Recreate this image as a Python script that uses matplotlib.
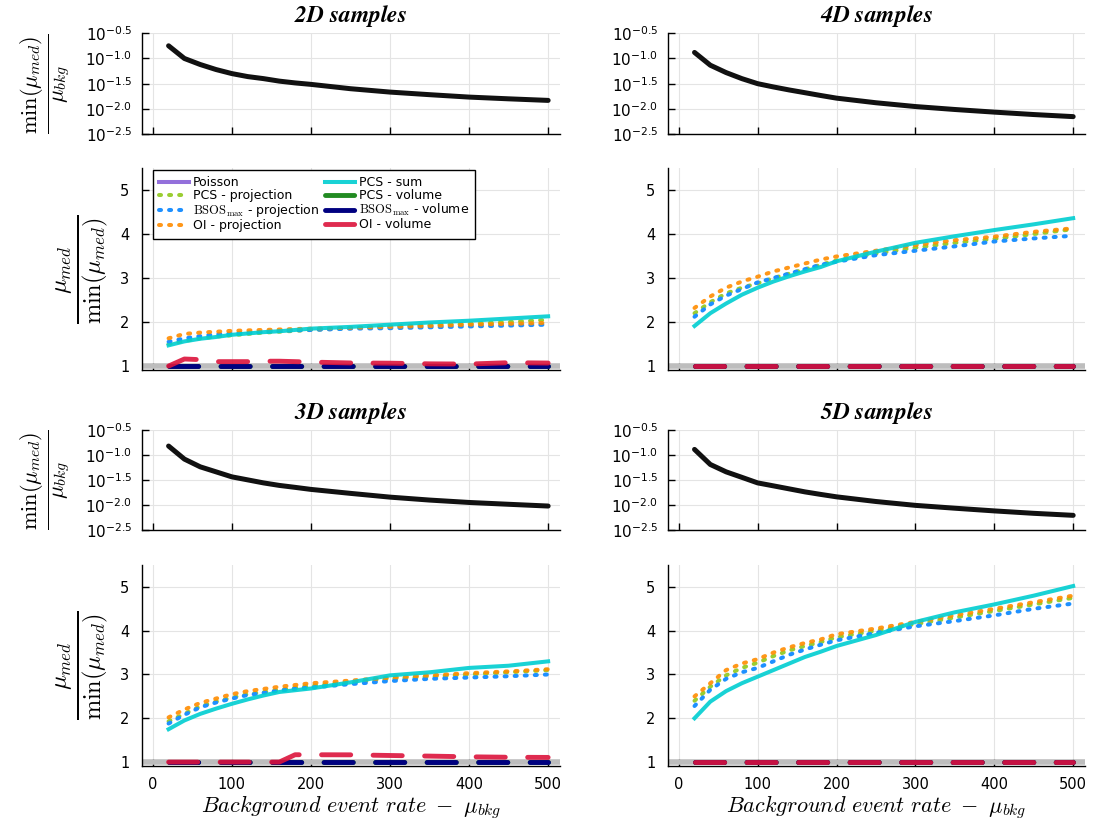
import matplotlib
matplotlib.use("Agg")
import matplotlib.pyplot as plt

plt.rcParams['mathtext.fontset'] = 'cm'
plt.rcParams['font.family'] = ['DejaVu Sans']

mu_bkg = [20, 40, 60, 80, 100, 120, 140, 160, 180, 200, 250, 300, 350, 400, 450, 500]
dims = ['2D', '4D', '3D', '5D']

# upper panels: min(mu_med) / mu_bkg
min_ratio = {
    '2D': [0.1786, 0.1000, 0.0759, 0.0603, 0.0501, 0.0437, 0.0398, 0.0355, 0.0327, 0.0306, 0.0251, 0.0215, 0.0191, 0.0171, 0.0158, 0.0147],
    '4D': [0.1318, 0.0735, 0.0525, 0.0398, 0.0316, 0.0272, 0.0237, 0.0209, 0.0184, 0.0163, 0.0132, 0.0111, 0.0097, 0.0086, 0.0077, 0.0070],
    '3D': [0.1493, 0.0820, 0.0575, 0.0457, 0.0363, 0.0316, 0.0275, 0.0245, 0.0224, 0.0204, 0.0170, 0.0143, 0.0125, 0.0112, 0.0103, 0.0095],
    '5D': [0.1279, 0.0641, 0.0457, 0.0355, 0.0275, 0.0240, 0.0209, 0.0182, 0.0162, 0.0145, 0.0117, 0.0098, 0.0086, 0.0076, 0.0068, 0.0062],
}

# lower panels: mu_med / min(mu_med)
poisson = [1.0] * 16
pcs_sum = {
    '2D': [1.47, 1.56, 1.62, 1.66, 1.71, 1.74, 1.77, 1.79, 1.82, 1.85, 1.89, 1.94, 1.99, 2.03, 2.08, 2.13],
    '4D': [1.91, 2.20, 2.42, 2.62, 2.78, 2.92, 3.04, 3.15, 3.25, 3.38, 3.60, 3.80, 3.95, 4.09, 4.22, 4.36],
    '3D': [1.75, 1.95, 2.10, 2.22, 2.33, 2.43, 2.52, 2.60, 2.64, 2.68, 2.82, 2.98, 3.05, 3.15, 3.20, 3.30],
    '5D': [2.00, 2.38, 2.62, 2.80, 2.95, 3.10, 3.25, 3.40, 3.52, 3.65, 3.90, 4.20, 4.42, 4.60, 4.80, 5.02],
}
pcs_proj = {
    '2D': [1.50, 1.57, 1.63, 1.67, 1.70, 1.73, 1.76, 1.78, 1.80, 1.82, 1.86, 1.90, 1.93, 1.96, 2.00, 2.05],
    '4D': [2.20, 2.45, 2.65, 2.78, 2.88, 3.00, 3.10, 3.20, 3.30, 3.40, 3.56, 3.69, 3.80, 3.89, 4.00, 4.11],
    '3D': [1.93, 2.10, 2.27, 2.38, 2.47, 2.55, 2.60, 2.65, 2.70, 2.74, 2.82, 2.90, 2.95, 3.00, 3.05, 3.10],
    '5D': [2.40, 2.72, 2.98, 3.15, 3.27, 3.42, 3.55, 3.65, 3.74, 3.85, 4.00, 4.15, 4.30, 4.45, 4.60, 4.75],
}
bsos_proj = {
    '2D': [1.55, 1.63, 1.68, 1.72, 1.74, 1.76, 1.78, 1.80, 1.81, 1.82, 1.85, 1.86, 1.88, 1.90, 1.92, 1.94],
    '4D': [2.12, 2.40, 2.60, 2.75, 2.90, 3.00, 3.10, 3.20, 3.30, 3.37, 3.52, 3.62, 3.72, 3.83, 3.90, 3.96],
    '3D': [1.88, 2.08, 2.25, 2.36, 2.45, 2.53, 2.58, 2.63, 2.67, 2.70, 2.78, 2.85, 2.90, 2.93, 2.96, 3.00],
    '5D': [2.28, 2.65, 2.90, 3.05, 3.15, 3.30, 3.45, 3.57, 3.68, 3.78, 3.95, 4.10, 4.22, 4.35, 4.50, 4.62],
}
oi_proj = {
    '2D': [1.63, 1.73, 1.76, 1.78, 1.80, 1.81, 1.82, 1.83, 1.84, 1.85, 1.87, 1.89, 1.91, 1.94, 1.96, 1.98],
    '4D': [2.32, 2.58, 2.78, 2.92, 3.03, 3.15, 3.24, 3.33, 3.42, 3.49, 3.62, 3.75, 3.86, 3.94, 4.05, 4.13],
    '3D': [2.02, 2.20, 2.35, 2.45, 2.55, 2.62, 2.67, 2.72, 2.76, 2.80, 2.86, 2.93, 2.98, 3.03, 3.07, 3.12],
    '5D': [2.50, 2.80, 3.10, 3.25, 3.35, 3.50, 3.62, 3.72, 3.80, 3.92, 4.05, 4.20, 4.35, 4.50, 4.65, 4.80],
}
pcs_vol = {
    '2D': [0.995] * 16,
    '4D': [1.0] * 16,
    '3D': [0.995] * 16,
    '5D': [1.0] * 16,
}
bsos_vol = {
    '2D': [1.0] * 16,
    '4D': [1.0] * 16,
    '3D': [1.0] * 16,
    '5D': [1.0] * 16,
}
oi_vol = {
    '2D': [1.0, 1.16, 1.145, 1.10, 1.10, 1.10, 1.11, 1.11, 1.10, 1.09, 1.07, 1.065, 1.05, 1.045, 1.076, 1.068],
    '4D': [1.0] * 16,
    '3D': [1.0, 1.0, 1.0, 1.0, 1.0, 1.0, 1.0, 1.0, 1.167, 1.167, 1.165, 1.15, 1.136, 1.12, 1.11, 1.106],
    '5D': [1.0] * 16,
}

log_ticks = [-2.5, -2.0, -1.5, -1.0, -0.5]
xticks = [0, 100, 200, 300, 400, 500]

W, H = 1094, 826
cols = {0: (141.7, 560.0), 1: (667.7, 1085.0)}
rows = {0: ((33.3, 134.0), (168.0, 370.0)), 1: ((429.7, 530.0), (565.0, 766.0))}
layout = {'2D': (0, 0), '4D': (1, 0), '3D': (0, 1), '5D': (1, 1)}

dot = (0, (0.5, 2.0))
dash = (0, (6.0, 4.6))


def box(c, yr):
    x0, x1 = cols[c]
    y0, y1 = yr
    return [x0 / W, 1 - y1 / H, (x1 - x0) / W, (y1 - y0) / H]


def style(ax):
    for s in ['top', 'right']:
        ax.spines[s].set_visible(False)
    for s in ['left', 'bottom']:
        ax.spines[s].set_linewidth(1.0)
    ax.tick_params(direction='in', labelsize=10.5, length=5, width=1)
    ax.tick_params(axis='y', pad=9)
    ax.tick_params(axis='x', pad=8)
    ax.grid(True, color='#e4e4e4', lw=0.8)
    ax.set_axisbelow(True)
    ax.set_xlim(-14, 515)
    ax.set_xticks(xticks)


fig = plt.figure(figsize=(W / 100, H / 100), dpi=100)

for d in dims:
    c, r = layout[d]
    (ty0, ty1), (by0, by1) = rows[r]
    axt = fig.add_axes(box(c, (ty0, ty1)))
    axb = fig.add_axes(box(c, (by0, by1)))
    style(axt)
    style(axb)

    # upper panel
    axt.plot(mu_bkg, min_ratio[d], color='#111111', lw=3.6, solid_capstyle='round')
    axt.set_yscale('log')
    axt.set_ylim(10 ** -2.5, 10 ** -0.5)
    axt.set_yticks([10 ** v for v in log_ticks])
    axt.set_yticklabels([r'$10^{%.1f}$' % v for v in log_ticks])
    axt.minorticks_off()
    axt.tick_params(axis='y', pad=7)
    for lab in axt.get_yticklabels():
        lab.set_math_fontfamily('dejavusans')
        lab.set_fontsize(11)
    axt.set_xticklabels([])
    axt.set_title(r'$\mathbfit{' + d + r'\ samples}$', fontsize=17, pad=8,
                  math_fontfamily='stix')

    # lower panel
    axb.plot(mu_bkg, poisson, color='mediumpurple', lw=2.9, label='Poisson')
    axb.axhline(1, color='#bdbdbd', lw=4.0, zorder=2.5)
    axb.plot(mu_bkg, pcs_proj[d], color='yellowgreen', lw=2.9, ls=dot,
             dash_capstyle='round', label='PCS - projection', zorder=3)
    axb.plot(mu_bkg, bsos_proj[d], color='dodgerblue', lw=2.9, ls=dot,
             dash_capstyle='round', label=r'$\mathrm{BSOS_{max}}$ - projection', zorder=3)
    axb.plot(mu_bkg, oi_proj[d], color='darkorange', lw=2.9, ls=dot,
             dash_capstyle='round', label='OI - projection', zorder=3, alpha=0.9)
    axb.plot(mu_bkg, pcs_sum[d], color='darkturquoise', lw=2.9, alpha=0.9,
             label='PCS - sum', zorder=3)
    axb.plot(mu_bkg, pcs_vol[d], color='forestgreen', lw=3.5, ls=dash,
             dash_capstyle='round', label='PCS - volume', zorder=3)
    axb.plot(mu_bkg, bsos_vol[d], color='navy', lw=3.5, ls=dash,
             dash_capstyle='round', label=r'$\mathrm{BSOS_{max}}$ - volume', zorder=3)
    axb.plot(mu_bkg, oi_vol[d], color='crimson', lw=3.5, ls=dash,
             dash_capstyle='round', label='OI - volume', zorder=3, alpha=0.9)
    axb.set_ylim(0.91, 5.5)
    axb.set_yticks([1, 2, 3, 4, 5])
    if r == 0:
        axb.set_xticklabels([])
    else:
        axb.set_xlabel(r'$Background\ event\ rate\ -\ \mu_{bkg}$', fontsize=16, labelpad=1)

    if c == 0:
        axt.set_ylabel(r'$\frac{\min(\mu_{med})}{\mu_{bkg}}$', fontsize=23, labelpad=9)
        axb.set_ylabel(r'$\frac{\mu_{med}}{\min(\mu_{med})}$', fontsize=25, labelpad=6)

    if d == '2D':
        leg = axb.legend(ncol=2, loc='upper left', bbox_to_anchor=(0.026, 0.99),
                         borderaxespad=0, fontsize=9.0, handlelength=2.4,
                         labelspacing=0.0, columnspacing=0.5, handletextpad=0.3,
                         borderpad=0.5, fancybox=False, framealpha=1)
        leg.get_frame().set_edgecolor('black')
        leg.get_frame().set_linewidth(1.0)

fig.savefig('out.png', dpi=100)
